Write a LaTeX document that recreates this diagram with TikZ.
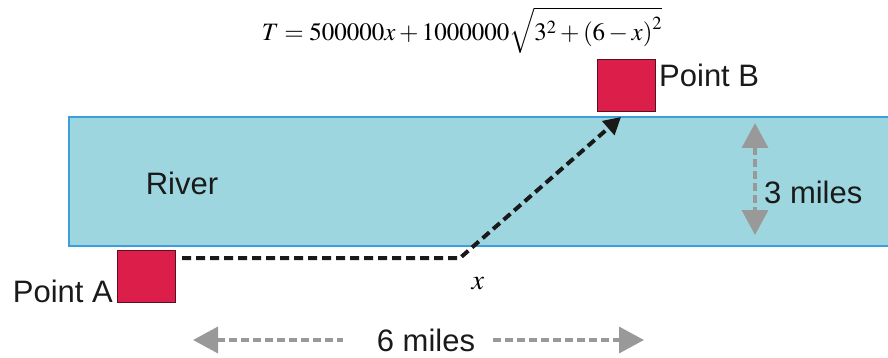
\documentclass[tikz,border=0pt]{standalone}
\usepackage{mathptmx}
\usepackage{fontspec}
\setsansfont{Liberation Sans}
\usetikzlibrary{arrows.meta}
\definecolor{riverfill}{HTML}{9ED6DF}
\definecolor{riverline}{HTML}{3A9FDC}
\definecolor{boxred}{HTML}{DC1F4A}
\definecolor{boxline}{HTML}{5A1020}
\definecolor{arrgray}{HTML}{999999}
\definecolor{txt}{HTML}{1A1A1A}
\tikzset{
  pointbox/.style={draw=boxline, line width=1pt, fill=boxred, minimum width=58pt, minimum height=52pt, inner sep=0pt},
  lbl/.style={font=\sffamily\fontsize{31}{34}\selectfont, text=txt, inner sep=0pt},
  path/.style={draw=black!90, line width=4pt, dash pattern=on 9pt off 5pt},
  graydash/.style={draw=arrgray, line width=3.5pt, dash pattern=on 8pt off 4pt},
  ghead/.tip={Triangle[width=26pt,length=25pt]}
}
\begin{document}
\begin{tikzpicture}[x=1pt,y=-1pt]
\useasboundingbox (0,0) rectangle (888,358);
% formula
\node[inner sep=0pt, anchor=north] (eq) at (462,7) {\fontsize{25}{28}\selectfont $T=500000x+1000000\sqrt{3^2+\left(6-x\right)^2}$};
% river
\node[draw=riverline, line width=2pt, fill=riverfill, minimum width=830pt, minimum height=129pt, inner sep=0pt, anchor=north west] (river) at (68,116) {};
\node[lbl] (rivertxt) at (182,183) {River};
% points
\node[pointbox] (A) at (146,276) {};
\node[pointbox] (B) at (626,86) {};
\node[lbl, anchor=east] (Alab) at (113,291) {Point A};
\node[lbl, anchor=west] (Blab) at (659,75) {Point B};
% path
\coordinate (p0) at (182,258);
\coordinate (px) at (460,258);
\coordinate (tip) at (621,117);
\draw[path, -{Triangle[width=18pt,length=17pt]}] (p0) -- (px) -- (tip);
\node[inner sep=0pt] (xl) at (478,284) {\fontsize{28}{30}\selectfont $x$};
% 3 miles
\coordinate (t1) at (755,123);
\coordinate (t2) at (755,235);
\draw[graydash, ghead-ghead] (t1) -- (t2);
\node[lbl, anchor=west] (three) at (764,192) {3 miles};
% 6 miles
\node[lbl] (six) at (426,340) {6 miles};
\coordinate (s1) at (193,340);
\coordinate (s2) at (644,340);
\draw[graydash, ghead-] (s1) -- ([xshift=-34pt]six.west);
\draw[graydash, -ghead] ([xshift=18pt]six.east) -- (s2);
\end{tikzpicture}
\end{document}
